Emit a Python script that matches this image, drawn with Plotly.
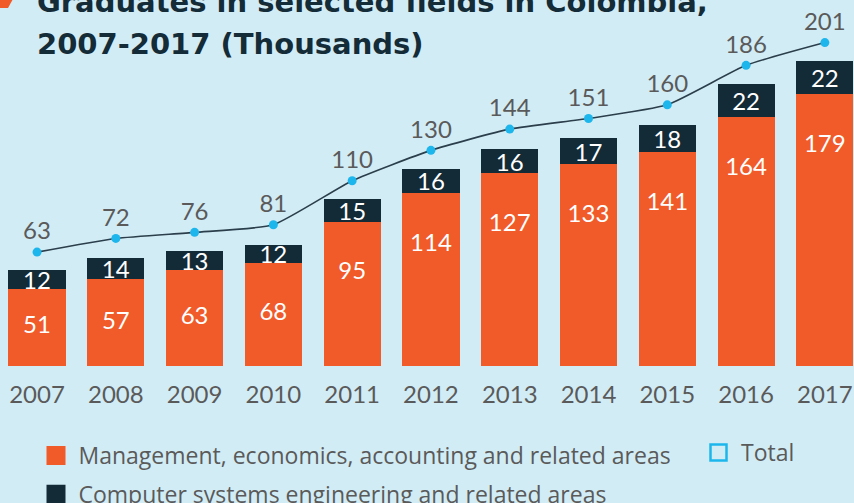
import plotly.graph_objects as go

years = ["2007", "2008", "2009", "2010", "2011", "2012", "2013", "2014", "2015", "2016", "2017"]
management = [51, 57, 63, 68, 95, 114, 127, 133, 141, 164, 179]
computer = [12, 14, 13, 12, 15, 16, 16, 17, 18, 22, 22]
total = [63, 72, 76, 81, 110, 130, 144, 151, 160, 186, 201]

BG = "#d2ecf5"
ORANGE = "#f15a29"
DARK = "#132a37"
CYAN = "#1db6ec"
GRAY = "#5a5a5a"
FONT = "Lato"

W, H = 854, 503
T, B = 38, 137
PH = H - T - B  # plot height in px


def py(pix):
    """pixel row -> paper y"""
    return (H - B - pix) / PH


# label positions for orange segments derived from values
mgmt_label_y = [max(v / 2, v - 34) for v in management]

fig = go.Figure()

fig.add_trace(go.Bar(
    x=years, y=management, name="Management, economics, accounting and related areas",
    marker=dict(color=ORANGE, line=dict(width=0)), showlegend=False,
))
fig.add_trace(go.Bar(
    x=years, y=computer, name="Computer systems engineering and related areas",
    marker=dict(color=DARK, line=dict(width=0)), showlegend=False,
    text=[str(v) for v in computer], textposition="inside", insidetextanchor="middle",
    textangle=0, constraintext="none",
    textfont=dict(family=FONT, size=24, color="white"),
))
fig.add_trace(go.Scatter(
    x=years, y=mgmt_label_y, mode="text", text=[str(v) for v in management],
    textfont=dict(family=FONT, size=24, color="white"), showlegend=False, hoverinfo="skip",
))
fig.add_trace(go.Scatter(
    x=years, y=total, yaxis="y2", mode="lines+markers+text", name="Total",
    line=dict(color="#2a3f4b", width=1.6, shape="spline", smoothing=0.5),
    marker=dict(color=CYAN, size=9),
    text=[str(v) for v in total], textposition="top center",
    textfont=dict(family=FONT, size=24, color=GRAY),
    showlegend=False, cliponaxis=False,
))

# legend entries
fig.add_trace(go.Scatter(x=[None], y=[None], mode="markers", name="Management, economics, accounting and related areas",
                         legend="legend", legendgroup="a",
                         marker=dict(symbol="square", size=16, color=ORANGE, line=dict(width=3, color=ORANGE))))
fig.add_trace(go.Scatter(x=[None], y=[None], mode="markers", name="Computer systems engineering and related areas",
                         legend="legend", legendgroup="b",
                         marker=dict(symbol="square", size=16, color=DARK, line=dict(width=3, color=DARK))))
fig.add_trace(go.Scatter(x=[None], y=[None], mode="markers", name="Total", legend="legend2",
                         marker=dict(symbol="square-open", size=16, color=CYAN, line=dict(width=2.5, color=CYAN))))

legend_font = dict(family="Open Sans", size=23, color=GRAY)

fig.update_layout(
    width=W, height=H,
    margin=dict(l=0, r=0, t=T, b=B, autoexpand=False),
    paper_bgcolor=BG, plot_bgcolor=BG,
    barmode="stack", bargap=0.275,
    xaxis=dict(type="category", range=[-0.47, 10.37], showgrid=False, zeroline=False, showline=False,
               ticks="", ticklabelstandoff=12,
               tickfont=dict(family=FONT, size=24, color=GRAY)),
    yaxis=dict(range=[0, 216], visible=False, showgrid=False),
    yaxis2=dict(range=[-12, 204], overlaying="y", visible=False, showgrid=False),
    legend=dict(orientation="v", x=33.5 / W, xanchor="left", y=py(434), yanchor="top",
                font=legend_font, itemsizing="trace", itemwidth=35, tracegroupgap=6,
                bgcolor="rgba(0,0,0,0)", traceorder="grouped"),
    legend2=dict(orientation="v", x=696 / W, xanchor="left", y=py(431), yanchor="top",
                 font=legend_font, itemsizing="trace", itemwidth=35,
                 bgcolor="rgba(0,0,0,0)"),
    annotations=[
        dict(text="Graduates in selected fields in Colombia,",
             xref="paper", yref="paper", x=35 / W, y=py(21),
             xanchor="left", yanchor="bottom", align="left", showarrow=False,
             font=dict(family="DejaVu Sans", size=29, color="#142b38", weight="bold")),
        dict(text="2007-2017 (Thousands)",
             xref="paper", yref="paper", x=35 / W, y=py(63),
             xanchor="left", yanchor="bottom", align="left", showarrow=False,
             font=dict(family="DejaVu Sans", size=29, color="#142b38", weight="bold")),
    ],
    shapes=[dict(type="path", xref="paper", yref="paper",
                 path=f"M 0 {py(-1)} L {13 / W} {py(-1)} L {8 / W} {py(8)} L 0 {py(8)} Z",
                 fillcolor=ORANGE, line=dict(width=0))],
)

fig.write_html(
    "out.html",
    config={"displayModeBar": False},
    post_script="document.body.style.margin='0';document.body.style.background='%s';" % BG,
)
